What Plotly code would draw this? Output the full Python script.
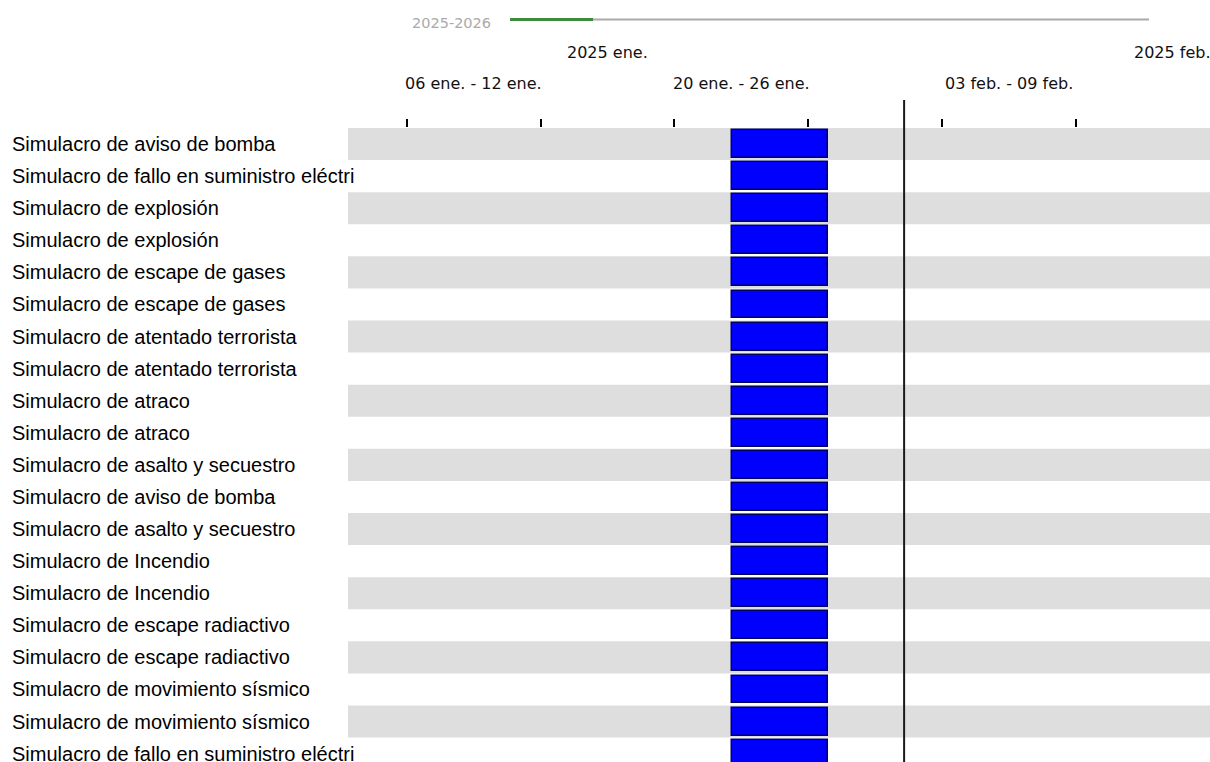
import plotly.graph_objects as go
import pandas as pd

# ---------------- data ----------------
tasks = [
    "Simulacro de aviso de bomba",
    "Simulacro de fallo en suministro eléctrico",
    "Simulacro de explosión",
    "Simulacro de explosión",
    "Simulacro de escape de gases",
    "Simulacro de escape de gases",
    "Simulacro de atentado terrorista",
    "Simulacro de atentado terrorista",
    "Simulacro de atraco",
    "Simulacro de atraco",
    "Simulacro de asalto y secuestro",
    "Simulacro de aviso de bomba",
    "Simulacro de asalto y secuestro",
    "Simulacro de Incendio",
    "Simulacro de Incendio",
    "Simulacro de escape radiactivo",
    "Simulacro de escape radiactivo",
    "Simulacro de movimiento sísmico",
    "Simulacro de movimiento sísmico",
    "Simulacro de fallo en suministro eléctrico",
]
starts = ["2025-01-23"] * len(tasks)
ends = ["2025-01-28"] * len(tasks)

week_starts = ["2025-01-06", "2025-01-20", "2025-02-03"]
week_labels = ["06 ene. - 12 ene.", "20 ene. - 26 ene.", "03 feb. - 09 feb."]
month_starts = ["2025-01-01", "2025-02-01"]
month_labels = ["2025 ene.", "2025 feb."]
period_label = "2025-2026"
x_range = ["2025-01-02 22:30", "2025-02-16 23:40"]
month_boundary = "2025-02-01"

# ---------------- geometry ----------------
W, H = 1210, 762
L, T = 348, 128
PW, PH = W - L, H - T
n = len(tasks)

s = pd.to_datetime(pd.Series(starts))
e = pd.to_datetime(pd.Series(ends))
dur_ms = ((e - s).dt.total_seconds() * 1000).tolist()
ys = list(range(n))

fig = go.Figure()
fig.add_trace(go.Bar(
    y=ys, x=dur_ms, base=[d.strftime("%Y-%m-%d") for d in s],
    orientation="h", width=0.87,
    marker=dict(color="#0000FF", line=dict(color="#000066", width=1.5)),
    hoverinfo="skip", showlegend=False,
))

shapes = []
# alternating stripes
for i in range(n):
    if i % 2 == 0:
        shapes.append(dict(type="rect", xref="paper", x0=0, x1=1, yref="y",
                           y0=i - 0.5, y1=i + 0.5, fillcolor="#DEDEDE",
                           line=dict(width=0), layer="below"))
# month boundary line
shapes.append(dict(type="line", xref="x", x0=month_boundary, x1=month_boundary,
                   yref="paper", y0=0, y1=1 + 28 / PH,
                   line=dict(color="#1a1a1a", width=2)))
# period scroller
yline = 1 + (T - 19.5) / PH
shapes.append(dict(type="line", xref="paper", x0=(510 - L) / PW, x1=(1149 - L) / PW,
                   yref="paper", y0=yline, y1=yline,
                   line=dict(color="#AAAAAA", width=2)))
shapes.append(dict(type="line", xref="paper", x0=(510 - L) / PW, x1=(593 - L) / PW,
                   yref="paper", y0=yline, y1=yline,
                   line=dict(color="#3C8C3C", width=3)))

annotations = []
label_font = dict(family="Liberation Sans, Arial", size=20, color="#000000")
for i, t in enumerate(tasks):
    annotations.append(dict(text=t[:40], xref="paper", x=(10 - L) / PW, xanchor="left",
                            yref="y", y=i, yanchor="middle", showarrow=False,
                            font=label_font))
hdr_font = dict(family="DejaVu Sans, Arial", size=16, color="#111111")
for ws, wl in zip(week_starts, week_labels):
    mid = pd.Timestamp(ws) + pd.Timedelta(hours=84)
    annotations.append(dict(text=wl, xref="x", x=mid.strftime("%Y-%m-%d %H:%M"),
                            xanchor="center", yref="paper", y=1, yanchor="middle",
                            yshift=T - 83, showarrow=False, font=hdr_font))
for ms, ml in zip(month_starts, month_labels):
    m0 = pd.Timestamp(ms)
    m1 = m0 + pd.offsets.MonthBegin(1)
    mid = m0 + (m1 - m0) / 2
    annotations.append(dict(text=ml, xref="x", x=mid.strftime("%Y-%m-%d %H:%M"),
                            xanchor="center", yref="paper", y=1, yanchor="middle",
                            yshift=T - 52, showarrow=False, font=hdr_font))
annotations.append(dict(text=period_label, xref="paper", x=(410 - L) / PW, xanchor="left",
                        yref="paper", y=1, yanchor="middle", yshift=T - 23,
                        showarrow=False,
                        font=dict(family="DejaVu Sans, Arial", size=14.5, color="#AAAAAA")))

fig.update_layout(
    width=W, height=H,
    margin=dict(l=L, r=0, t=T, b=0, pad=0),
    paper_bgcolor="white", plot_bgcolor="white",
    shapes=shapes, annotations=annotations,
    bargap=0,
    xaxis=dict(type="date", range=x_range, side="top", showgrid=False, zeroline=False,
               showline=False, ticks="outside", ticklen=8, tickwidth=1.5,
               tickcolor="#000000", tick0="2025-01-06", dtick=7 * 86400000,
               showticklabels=False, fixedrange=True),
    yaxis=dict(range=[19.26, -0.5], showgrid=False, zeroline=False, showline=False,
               showticklabels=False, ticks="", fixedrange=True),
)

fig.write_html(
    "out.html",
    config={"displayModeBar": False},
    post_script="document.body.style.margin='0';document.body.style.overflow='hidden';"
                "document.documentElement.style.overflow='hidden';",
)
